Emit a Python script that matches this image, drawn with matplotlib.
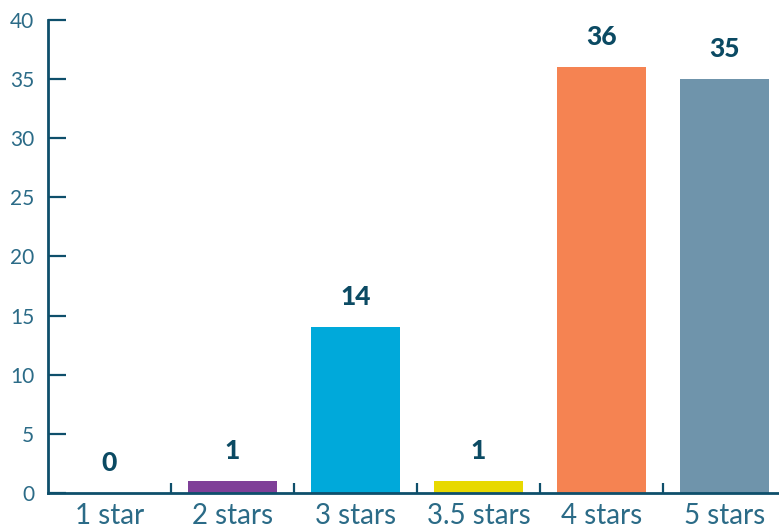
import numpy as np
import matplotlib.pyplot as plt

categories = ["1 star", "2 stars", "3 stars", "3.5 stars", "4 stars", "5 stars"]
counts = [0, 1, 14, 1, 36, 35]
colors = ["#7f3f98", "#7f3f98", "#00a9da", "#e8d900", "#f58352", "#6f94ab"]
y_ticks = [0, 5, 10, 15, 20, 25, 30, 35, 40]

axis_color = "#0e4f6b"
label_color = "#2b6b87"
value_color = "#0b4a63"


def main():
    fig = plt.figure(figsize=(7.79, 5.27), dpi=100)
    ax = fig.add_axes([48 / 779, 34 / 527, 738 / 779, 473 / 527])

    x = np.arange(len(categories))
    bars = ax.bar(x, counts, width=0.72, color=colors)

    # value labels above bars
    for b, v in zip(bars, counts):
        ax.annotate(str(v), (b.get_x() + b.get_width() / 2, v),
                    xytext=(0, 13), textcoords="offset points",
                    ha="center", va="bottom", fontsize=19,
                    family="Lato", fontweight="black", color=value_color)

    ax.set_xlim(-0.5, len(categories) - 0.5)
    ax.set_ylim(0, 40)
    ax.set_yticks(y_ticks)
    ax.set_xticks(x)
    ax.set_xticklabels(categories)
    ax.set_xticks(np.arange(0.5, len(categories) - 1, 1), minor=True)

    for s in ["top", "right"]:
        ax.spines[s].set_visible(False)
    for s in ["left", "bottom"]:
        ax.spines[s].set_color(axis_color)
        ax.spines[s].set_linewidth(2)

    ax.tick_params(axis="y", direction="in", length=13, width=1.6,
                   color=axis_color, labelcolor=label_color, labelsize=15, pad=10)
    ax.tick_params(axis="x", which="major", length=0, labelcolor=label_color,
                   labelsize=20, pad=7)
    ax.tick_params(axis="x", which="minor", direction="in", length=7, width=1.6,
                   color=axis_color)
    for lab in ax.get_xticklabels() + ax.get_yticklabels():
        lab.set_family("Lato")
        lab.set_fontweight("normal")
        lab.set_color(label_color)

    fig.savefig("out.png", dpi=100)


if __name__ == "__main__":
    main()
